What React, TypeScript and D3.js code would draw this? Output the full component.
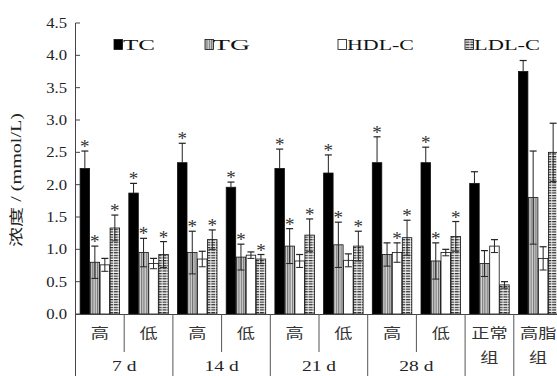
import React from 'react';
import * as d3 from 'd3';

const categories = ['7d高', '7d低', '14d高', '14d低', '21d高', '21d低', '28d高', '28d低', '正常组', '高脂组'];
const catLabels = [['高'], ['低'], ['高'], ['低'], ['高'], ['低'], ['高'], ['低'], ['正常', '组'], ['高脂', '组']];
const dayLabels = ['7 d', '14 d', '21 d', '28 d'];
const seriesNames = ['TC', 'TG', 'HDL-C', 'LDL-C'];
const tcMean = [2.25, 1.87, 2.34, 1.96, 2.25, 2.18, 2.34, 2.34, 2.02, 3.75];
const tcSd = [0.27, 0.15, 0.3, 0.08, 0.3, 0.28, 0.4, 0.24, 0.18, 0.17];
const tgMean = [0.8, 0.95, 0.95, 0.88, 1.05, 1.07, 0.92, 0.82, 0.78, 1.8];
const tgSd = [0.25, 0.22, 0.33, 0.2, 0.27, 0.35, 0.18, 0.28, 0.2, 0.72];
const hdlMean = [0.76, 0.78, 0.85, 0.91, 0.82, 0.83, 0.95, 0.95, 1.05, 0.86];
const hdlSd = [0.1, 0.08, 0.12, 0.05, 0.1, 0.1, 0.15, 0.05, 0.1, 0.18];
const ldlMean = [1.33, 0.92, 1.15, 0.85, 1.22, 1.05, 1.18, 1.2, 0.45, 2.5];
const ldlSd = [0.2, 0.2, 0.15, 0.07, 0.25, 0.23, 0.27, 0.23, 0.05, 0.45];
const tcSig = [1, 1, 1, 1, 1, 1, 1, 1, 0, 0];
const tgSig = [1, 1, 1, 1, 1, 1, 0, 1, 0, 0];
const hdlSig = [0, 0, 0, 0, 0, 0, 1, 0, 0, 0];
const ldlSig = [1, 1, 1, 1, 1, 1, 1, 1, 0, 0];
const yTicks = [0, 0.5, 1, 1.5, 2, 2.5, 3, 3.5, 4, 4.5];

const means = [tcMean, tgMean, hdlMean, ldlMean];
const sds = [tcSd, tgSd, hdlSd, ldlSd];
const sigs = [tcSig, tgSig, hdlSig, ldlSig];
const fills = ['#000', 'url(#pTG)', '#fff', 'url(#pLDL)'];

const W = 557;
const H = 376;
const serif = "'Liberation Serif', 'Times New Roman', 'Noto Sans CJK SC', serif";
const cjk = "'Noto Sans CJK SC', 'Liberation Serif', serif";

export default function App() {
  const x0 = d3.scaleBand<string>().domain(categories).range([75.5, 75.5 + 48.7 * 10]).padding(0);
  const x1 = d3.scaleBand<string>().domain(seriesNames).range([0, x0.bandwidth()]).paddingInner(0.05).paddingOuter(0.46);
  const y = d3.scaleLinear().domain([0, 4.5]).range([314, 23]);
  const step = x0.step();
  const base = y(0);

  const legendPos = [
    { sx: 114, tx: 123, len: 32 },
    { sx: 205, tx: 213, len: 37 },
    { sx: 338, tx: 347, len: 67 },
    { sx: 465, tx: 474, len: 66 },
  ];

  return (
    <svg width={W} height={H} style={{ position: 'absolute', left: 0, top: 0, background: '#fff' }}>
      <defs>
        <pattern id="pTG" patternUnits="userSpaceOnUse" width="2.4" height="4">
          <rect width="2.4" height="4" fill="#d4d4d4" />
          <line x1="0.6" y1="0" x2="0.6" y2="4" stroke="#6a6a6a" strokeWidth="1" />
        </pattern>
        <pattern id="pLDL" patternUnits="userSpaceOnUse" width="4.8" height="2.6">
          <rect width="4.8" height="2.6" fill="#f2f2f2" />
          <rect x="0" y="0" width="4" height="1.2" fill="#2a2a2a" />
        </pattern>
      </defs>
      <rect width={W} height={H} fill="#fff" />

      {/* bars */}
      {categories.map((c, i) => (
        <g key={c} transform={`translate(${x0(c)},0)`}>
          {seriesNames.map((s, k) => {
            const m = means[k][i];
            const e = sds[k][i];
            const bx = x1(s)!;
            const bw = x1.bandwidth();
            const cx = bx + bw / 2;
            const top = y(m + e);
            const bot = y(m - e);
            return (
              <g key={s}>
                <rect x={bx} y={y(m)} width={bw} height={base - y(m)} fill={fills[k]} stroke="#111" strokeWidth={0.8} />
                <line x1={cx} x2={cx} y1={top} y2={k === 0 ? y(m) : bot} stroke="#222" strokeWidth={1} />
                <line x1={cx - 3.5} x2={cx + 3.5} y1={top} y2={top} stroke="#222" strokeWidth={1.2} />
                {k !== 0 ? (
                  <line x1={cx - 3.5} x2={cx + 3.5} y1={bot} y2={bot} stroke="#222" strokeWidth={1} />
                ) : null}
                {sigs[k][i] ? (
                  <text x={cx} y={top + 2} textAnchor="middle" fontFamily={serif} fontSize={19} fill="#333">*</text>
                ) : null}
              </g>
            );
          })}
        </g>
      ))}

      {/* y axis */}
      <line x1={75.5} x2={75.5} y1={y(4.5)} y2={H} stroke="#444" strokeWidth={1} />
      {yTicks.map((t) => (
        <g key={t}>
          <line x1={75.5} x2={80} y1={y(t)} y2={y(t)} stroke="#444" strokeWidth={1} />
          <text x={67} y={y(t)} dy="0.34em" textAnchor="end" fontFamily={serif} fontSize={14.5} fill="#222" transform={`translate(${67 * -0.15},0) scale(1.15,1)`}>
            {t.toFixed(1)}
          </text>
        </g>
      ))}
      <text
        transform={`translate(16,180) rotate(-90)`}
        textAnchor="middle"
        dominantBaseline="central"
        fontFamily={serif}
        fontSize={14}
        fill="#222"
        textLength={134}
        lengthAdjust="spacingAndGlyphs"
      >
        浓度 / (mmol/L)
      </text>

      {/* x axis */}
      <line x1={75.5} x2={W} y1={base + 0.5} y2={base + 0.5} stroke="#444" strokeWidth={1} />
      {categories.map((c, i) => {
        if (i === 0) return null;
        const bx = x0(c)!;
        const long = i % 2 === 0 || i >= 8;
        return <line key={'s' + c} x1={bx} x2={bx} y1={base} y2={long ? H : 352} stroke="#555" strokeWidth={1} />;
      })}
      {categories.map((c, i) => (
        <g key={'l' + c}>
          {catLabels[i].map((ln, j) => (
            <text
              key={j}
              x={0}
              y={0}
              textAnchor="middle"
              fontFamily={cjk}
              fontSize={14}
              fill="#333"
              transform={`translate(${x0(c)! + step / 2},${338 + j * 24}) scale(1.3,1)`}
            >
              {ln}
            </text>
          ))}
        </g>
      ))}
      {dayLabels.map((d, k) => (
        <text
          key={d}
          x={0}
          y={0}
          textAnchor="middle"
          fontFamily={serif}
          fontSize={15}
          fill="#222"
          transform={`translate(${x0(categories[2 * k + 1])!},371) scale(1.3,1)`}
        >
          {d}
        </text>
      ))}

      {/* legend */}
      {seriesNames.map((s, k) => (
        <g key={'lg' + s}>
          <rect x={legendPos[k].sx} y={39.5} width={8.5} height={10} fill={fills[k]} stroke="#111" strokeWidth={0.8} />
          <text x={legendPos[k].tx} y={50} fontFamily={serif} fontSize={15.5} fill="#111" textLength={legendPos[k].len} lengthAdjust="spacingAndGlyphs">
            {s}
          </text>
        </g>
      ))}
    </svg>
  );
}
